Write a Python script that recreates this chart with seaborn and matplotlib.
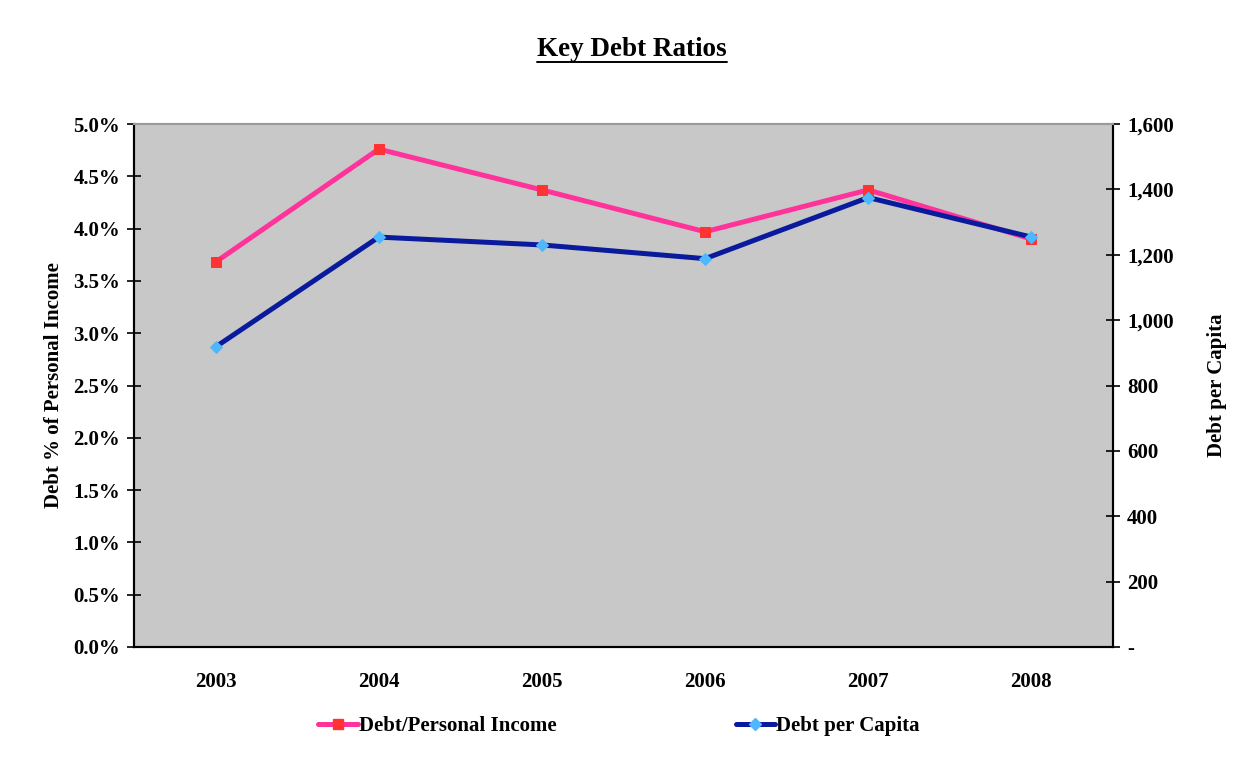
import matplotlib
matplotlib.use("Agg")
import matplotlib.pyplot as plt
import seaborn as sns
import pandas as pd
from matplotlib.lines import Line2D
from matplotlib.ticker import FixedLocator, FuncFormatter

years = ["2003", "2004", "2005", "2006", "2007", "2008"]
debt_pct_income = [3.68, 4.76, 4.37, 3.97, 4.37, 3.90]
debt_per_capita = [918, 1254, 1230, 1188, 1375, 1254]
left_ticks = [0.0, 0.5, 1.0, 1.5, 2.0, 2.5, 3.0, 3.5, 4.0, 4.5, 5.0]
right_ticks = [0, 200, 400, 600, 800, 1000, 1200, 1400, 1600]

sns.set_style("white")
plt.rcParams["font.family"] = ["Liberation Serif", "DejaVu Serif"]
plt.rcParams["font.weight"] = "bold"
plt.rcParams["text.color"] = "black"
plt.rcParams["axes.labelcolor"] = "black"
plt.rcParams["xtick.color"] = "black"
plt.rcParams["ytick.color"] = "black"

PINK = "#FF3399"
RED = "#FF3333"
NAVY = "#0A1A9C"
LIGHTBLUE = "#4DB8FF"
BG = "#C8C8C8"
FS = 15

df = pd.DataFrame({"idx": range(len(years)), "year": years,
                   "pct": debt_pct_income, "cap": debt_per_capita})

fig = plt.figure(figsize=(12.49, 7.63), dpi=100)
ax = fig.add_axes([134 / 1249, 1 - 647 / 763, (1113 - 134) / 1249, (647 - 124) / 763])
ax.set_facecolor(BG)

sns.lineplot(data=df, x="idx", y="pct", ax=ax, color=PINK, linewidth=3.6,
             marker="s", markersize=7, markerfacecolor=RED, markeredgecolor=RED,
             legend=False)
ax2 = ax.twinx()
sns.lineplot(data=df, x="idx", y="cap", ax=ax2, color=NAVY, linewidth=3.6,
             marker="D", markersize=6.5, markerfacecolor=LIGHTBLUE,
             markeredgecolor=LIGHTBLUE, legend=False)

ax.set_xlim(-0.5, len(years) - 0.5)
ax.set_ylim(0, 5.0)
ax2.set_ylim(0, 1600)

# x ticks: marks at boundaries, labels at centers
ax.xaxis.set_major_locator(FixedLocator([i - 0.5 for i in range(len(years) + 1)]))
ax.xaxis.set_major_formatter(FuncFormatter(lambda v, p: ""))
ax.xaxis.set_minor_locator(FixedLocator(list(range(len(years)))))
ax.xaxis.set_minor_formatter(FuncFormatter(lambda v, p: years[int(round(v))]))
ax.tick_params(axis="x", which="major", direction="out", length=7, width=1.2, color="black")
ax.tick_params(axis="x", which="minor", length=0, pad=18, labelsize=FS, labelcolor="black")

ax.set_yticks(left_ticks)
ax.yaxis.set_major_formatter(FuncFormatter(lambda v, p: f"{v:.1f}%"))
ax.tick_params(axis="y", direction="inout", length=10, width=1.2, pad=5,
               labelsize=FS, labelcolor="black", color="black")

ax2.set_yticks(right_ticks)
ax2.yaxis.set_major_formatter(FuncFormatter(lambda v, p: "-" if v == 0 else f"{int(v):,}"))
ax2.tick_params(axis="y", direction="inout", length=10, width=1.2, pad=5,
                labelsize=FS, labelcolor="black", color="black")

ax.set_xlabel("")
ax.set_ylabel("Debt % of Personal Income", fontsize=FS, fontweight="bold",
              labelpad=7, color="black")
ax2.set_ylabel("Debt per Capita", fontsize=FS, fontweight="bold",
               labelpad=24, color="black")

for a in (ax, ax2):
    for s in ("left", "bottom", "right"):
        a.spines[s].set_color("black")
        a.spines[s].set_linewidth(1.5)
    a.spines["top"].set_color("#9A9A9A")
    a.spines["top"].set_linewidth(1.5)

handles = [
    Line2D([], [], color=PINK, linewidth=3.6, marker="s", markersize=7,
           markerfacecolor=RED, markeredgecolor=RED),
    Line2D([], [], color=NAVY, linewidth=3.6, marker="D", markersize=6.5,
           markerfacecolor=LIGHTBLUE, markeredgecolor=LIGHTBLUE),
]
fig.legend(handles, ["Debt/Personal Income", "Debt per Capita"], ncol=2,
           loc="center", bbox_to_anchor=(619 / 1249, 1 - 726 / 763),
           frameon=False, handlelength=1.9, handletextpad=0.05,
           columnspacing=8.6, prop={"weight": "bold", "size": FS})

title = fig.text(632 / 1249, 1 - 50 / 763, "Key Debt Ratios", ha="center", va="center",
                 fontsize=19.5, fontweight="bold", color="black")
fig.canvas.draw()
bb = title.get_window_extent(fig.canvas.get_renderer())
uy = (bb.y0 + 1) / fig.bbox.height
fig.add_artist(Line2D([bb.x0 / fig.bbox.width, bb.x1 / fig.bbox.width], [uy, uy],
                      transform=fig.transFigure, color="black", linewidth=1.4))

fig.savefig("out.png", dpi=100)
